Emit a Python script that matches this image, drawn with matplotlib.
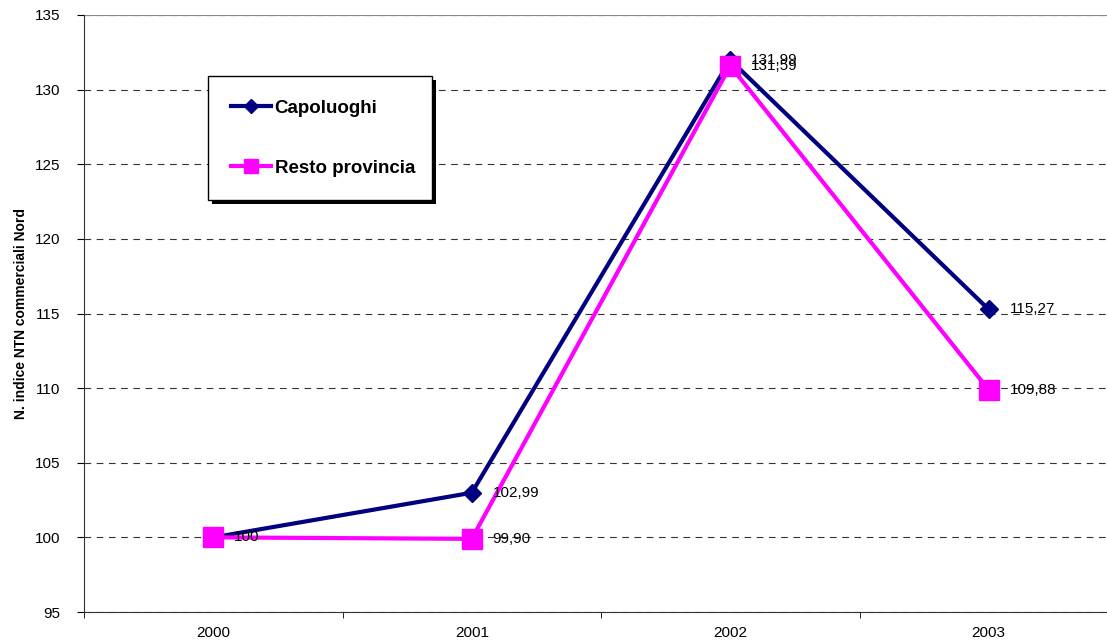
import matplotlib
matplotlib.use("Agg")
import matplotlib.pyplot as plt
from matplotlib.patches import Rectangle
import numpy as np

plt.rcParams['font.family'] = ['Liberation Sans', 'DejaVu Sans']

anni = ['2000', '2001', '2002', '2003']
capoluoghi = [100, 102.99, 131.99, 115.27]
resto = [100, 99.90, 131.59, 109.88]
lab_cap = ['', '102,99', '131,99', '115,27']
lab_resto = ['100', '99,90', '131,59', '109,88']

fig = plt.figure(figsize=(11.07, 6.41), dpi=100)
ax = fig.add_axes([84/1107, 1-612/641, (1118-84)/1107, (612-15)/641])

x = np.arange(len(anni))
ax.plot(x, capoluoghi, color='#000080', lw=3, marker='D', ms=9,
        label='Capoluoghi', zorder=3)
ax.plot(x, resto, color='#FF00FF', lw=3, marker='s', ms=14,
        label='Resto provincia', zorder=4)

for xi, v, t in zip(x, capoluoghi, lab_cap):
    if t:
        ax.annotate(t, (xi, v), xytext=(15, 0), textcoords='offset points',
                    va='center', ha='left', fontsize=11, zorder=5)
for xi, v, t in zip(x, resto, lab_resto):
    ax.annotate(t, (xi, v), xytext=(15, 0), textcoords='offset points',
                va='center', ha='left', fontsize=11, zorder=5)

ax.set_xlim(-0.5, 3.5)
ax.set_ylim(95, 135)
ax.set_yticks(range(95, 136, 5))
ax.set_xticks(x)
ax.set_xticklabels(anni, fontsize=11)
ax.set_xticks(np.arange(-0.5, 3.6, 1), minor=True)
ax.tick_params(axis='x', which='major', length=0, pad=10)
ax.tick_params(axis='x', which='minor', length=4, direction='out')
ax.tick_params(axis='y', length=5, direction='out', labelsize=11, pad=12)
ax.yaxis.grid(True, linestyle=(0, (6, 5)), color='#333333', lw=0.8)
ax.set_axisbelow(True)
for s in ['top', 'right']:
    ax.spines[s].set_visible(False)
ax.spines['left'].set_color('#333333')
ax.spines['bottom'].set_color('#333333')
ax.axhline(135, color='#888888', lw=0.8)

ax.set_ylabel('N. indice NTN commerciali Nord', fontsize=10, fontweight='bold',
              labelpad=5)

leg = ax.legend(loc='upper left', bbox_to_anchor=(208/1107, 1-200/641, 224/1107, 124/641),
                bbox_transform=fig.transFigure, mode='expand', borderaxespad=0,
                prop={'weight': 'bold', 'size': 13.5}, frameon=True, fancybox=False,
                edgecolor='black', framealpha=1, handlelength=2.1,
                handletextpad=0.2, labelspacing=2.3, borderpad=1.25,
                markerscale=0.75)
leg.get_frame().set_linewidth(1)
leg.set_zorder(10)

# shadow under the legend box, shifted 4 px right and down
fig.canvas.draw()
bb = leg.get_frame().get_window_extent()
shadow = Rectangle((bb.x0 + 4, bb.y0 - 4), bb.width, bb.height,
                   transform=None, facecolor='black',
                   edgecolor='none', zorder=9, clip_on=False)
ax.add_patch(shadow)

fig.savefig('out.png', dpi=100)
